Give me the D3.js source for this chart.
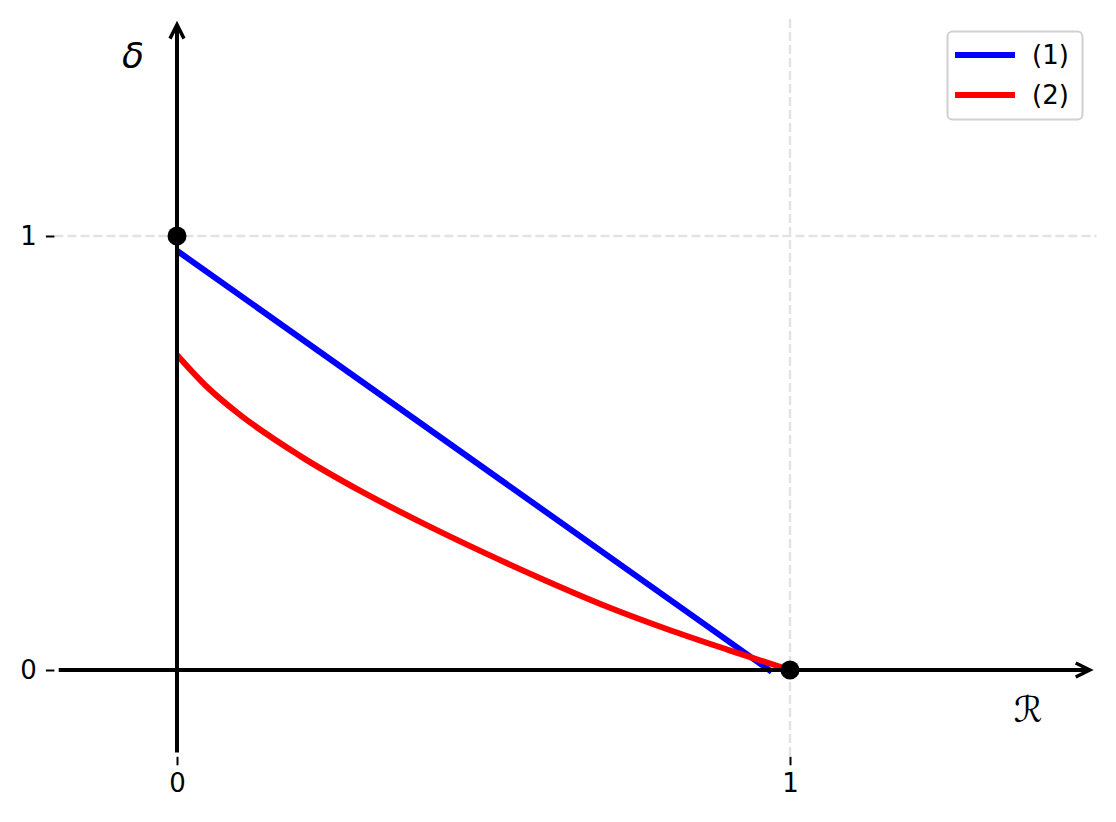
<!DOCTYPE html>
<meta charset='utf-8'>
<style>
body { margin: 0; background: #fff; }
svg { display: block; }
.tick text { font-family: 'DejaVu Sans', sans-serif; font-size: 26px; fill: #000; }
.legend text { font-family: 'DejaVu Sans', sans-serif; font-size: 26px; }
</style>
<svg width='1116' height='822'></svg>
<script src='https://cdn.jsdelivr.net/npm/d3@7/dist/d3.min.js'></script>
<script>
  // curve (1): straight line
  var rate1 = [0, 0.97];
  var delta1 = [0.966, -0.004];
  // curve (2)
  var rate2 = [0, 0.05, 0.1, 0.2, 0.3, 0.4, 0.5, 0.6, 0.7, 0.8, 0.9, 1];
  var delta2 = [0.726, 0.651, 0.591, 0.494, 0.412, 0.339, 0.271, 0.207, 0.147, 0.094, 0.046, 0];
  var corners = [[0, 1], [1, 0]];
  var ticks = [0, 1];
  var names = ['(1)', '(2)'];
  var colors = ['#0000ff', '#ff0000'];

  var svg = d3.select('svg');

  var x = d3.scaleLinear().domain([-0.2, 1.5]).range([54.4, 1096.5]);
  var y = d3.scaleLinear().domain([-0.2, 1.5]).range([756.8, 19]);

  // grid at the ticks that matter
  svg.append('line')
    .attr('x1', x(-0.2)).attr('x2', x(1.5))
    .attr('y1', y(1)).attr('y2', y(1))
    .attr('stroke', '#e3e3e3').attr('stroke-width', 2.4)
    .attr('stroke-dasharray', '9,4');
  svg.append('line')
    .attr('x1', x(1)).attr('x2', x(1))
    .attr('y1', y(1.5)).attr('y2', y(-0.2))
    .attr('stroke', '#e3e3e3').attr('stroke-width', 2.4)
    .attr('stroke-dasharray', '9,4');

  // ticks, no spines
  svg.append('g')
    .attr('transform', 'translate(0,' + y(-0.2) + ')')
    .call(d3.axisBottom(x).tickValues(ticks).tickFormat(d3.format('d')).tickSize(8.5).tickPadding(8));
  svg.append('g')
    .attr('transform', 'translate(' + x(-0.2) + ',0)')
    .call(d3.axisLeft(y).tickValues(ticks).tickFormat(d3.format('d')).tickSize(8.5).tickPadding(9));
  svg.selectAll('.domain').remove();
  svg.selectAll('.tick line').attr('stroke', '#000').attr('stroke-width', 2);

  var line = d3.line().x(d => x(d[0])).y(d => y(d[1]));

  svg.append('path')
    .datum(rate1.map((r, i) => [r, delta1[i]]))
    .attr('d', line)
    .attr('fill', 'none').attr('stroke', colors[0]).attr('stroke-width', 6);

  svg.append('path')
    .datum(rate2.map((r, i) => [r, delta2[i]]))
    .attr('d', line.curve(d3.curveMonotoneX))
    .attr('fill', 'none').attr('stroke', colors[1]).attr('stroke-width', 6);

  // axis arrows
  svg.append('line')
    .attr('x1', x(-0.193)).attr('x2', x(1.488))
    .attr('y1', y(0)).attr('y2', y(0))
    .attr('stroke', '#000').attr('stroke-width', 4);
  svg.append('line')
    .attr('x1', x(0)).attr('x2', x(0))
    .attr('y1', y(-0.19)).attr('y2', y(1.486))
    .attr('stroke', '#000').attr('stroke-width', 4);
  var xt = x(1.489), yt = y(1.487);
  svg.append('path')
    .attr('d', 'M' + (xt - 14) + ',' + (y(0) - 7) + 'L' + xt + ',' + y(0) + 'L' + (xt - 14) + ',' + (y(0) + 7))
    .attr('fill', 'none').attr('stroke', '#000').attr('stroke-width', 3.5).attr('stroke-linejoin', 'miter');
  svg.append('path')
    .attr('d', 'M' + (x(0) - 7) + ',' + (yt + 14) + 'L' + x(0) + ',' + yt + 'L' + (x(0) + 7) + ',' + (yt + 14))
    .attr('fill', 'none').attr('stroke', '#000').attr('stroke-width', 3.5).attr('stroke-linejoin', 'miter');

  svg.selectAll('circle.corner')
    .data(corners)
    .enter().append('circle')
      .attr('class', 'corner')
      .attr('cx', d => x(d[0]))
      .attr('cy', d => y(d[1]))
      .attr('r', 9.5)
      .attr('fill', '#000');

  // axis labels
  svg.append('text')
    .attr('x', 133).attr('y', 68)
    .attr('text-anchor', 'middle')
    .attr('font-family', 'DejaVu Sans, sans-serif')
    .attr('font-style', 'italic')
    .attr('font-size', 36)
    .text('δ');
  svg.append('text')
    .attr('x', 1028).attr('y', 722)
    .attr('text-anchor', 'middle')
    .attr('font-family', 'DejaVu Sans, sans-serif')
    .attr('font-size', 36)
    .text('ℛ');

  // legend
  var legend = svg.append('g').attr('class', 'legend');
  legend.append('rect')
    .attr('x', 947.5).attr('y', 31.5).attr('width', 135).attr('height', 88)
    .attr('rx', 5).attr('fill', '#fff').attr('stroke', '#d0d0d0').attr('stroke-width', 2);
  names.forEach((n, i) => {
    var ly = 55 + i * 40;
    legend.append('line')
      .attr('x1', 955).attr('x2', 1015).attr('y1', ly).attr('y2', ly)
      .attr('stroke', colors[i]).attr('stroke-width', 6);
    legend.append('text')
      .attr('x', 1032).attr('y', ly).attr('dy', '0.35em')
      .text(n);
  });
</script>
